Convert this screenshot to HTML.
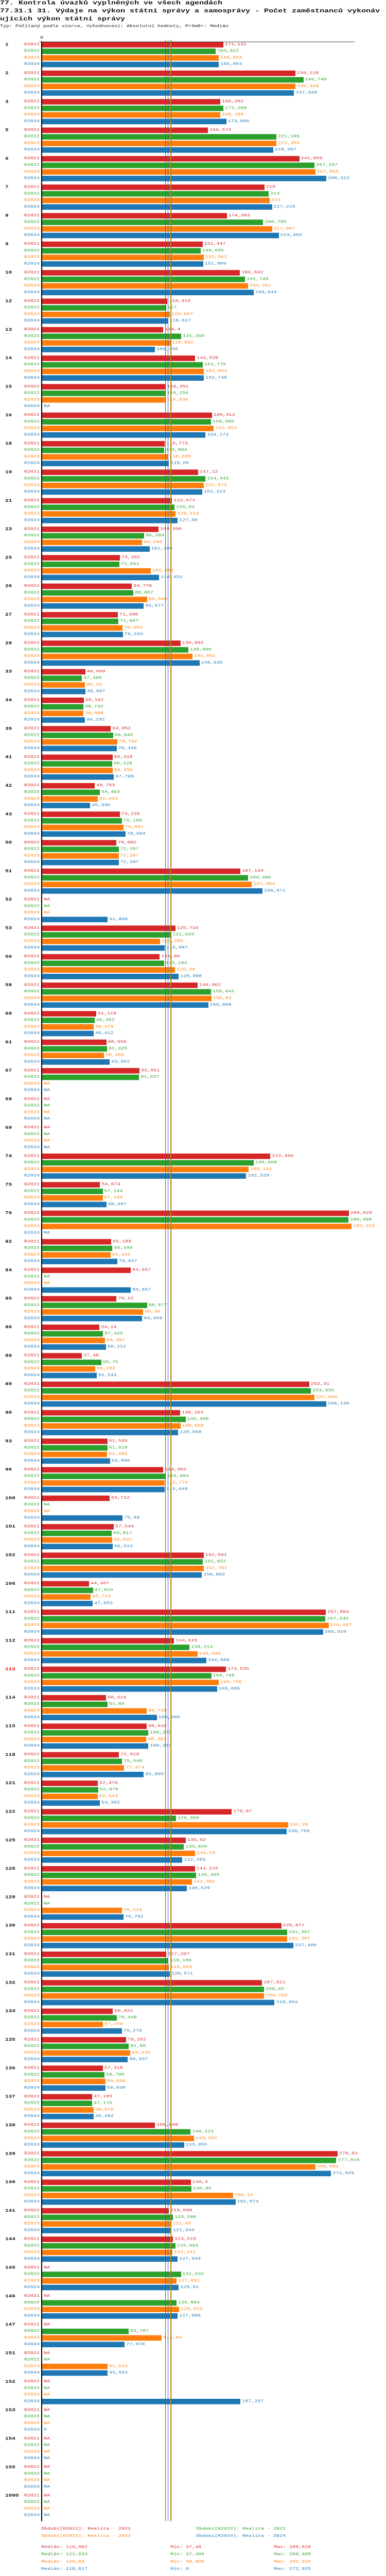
<!DOCTYPE html>
<html><head><meta charset="utf-8">
<style>
html,body{margin:0;padding:0;background:#fff;width:750px;overflow:hidden;}
body{position:relative;font-family:"Liberation Mono","DejaVu Sans Mono",monospace;}
#wrap{position:absolute;left:0;top:0;width:750px;height:7050px;transform-origin:0 0;}
.t{position:absolute;left:0;white-space:nowrap;font-weight:bold;font-size:15px;line-height:18px;color:#111;}
.s{position:absolute;left:0;white-space:nowrap;font-size:10px;line-height:12px;color:#111;}
.a{position:absolute;white-space:nowrap;font-size:10px;line-height:12px;}
.b{position:absolute;height:15px;}
.ln{position:absolute;width:1px;}
#chart{position:absolute;left:0;top:0;width:750px;height:7050px;}
</style></head>
<body>
<div id="wrap">
<div class="t" style="top:0px">77. Kontrola úvazků vyplněných ve všech agendách</div>
<div class="t" style="top:22px">77.31.1 31. Výdaje na výkon státní správy a samosprávy - Počet zaměstnanců vykonáv</div>
<div class="t" style="top:44px">ujících výkon státní správy</div>
<div class="s" style="top:67px">Typ: Počítaný podle vzorce, Vyhodnocení: Absolutní hodnoty, Průměr: Medián</div>
<div id="chart"></div>
</div>
<script>
const groups=["1","2","3","5","6","7","8","9","10","12","13","14","15","16","18","19","21","23","25","26","27","28","33","34","39","41","42","43","50","51","52","53","56","58","60","61","67","68","69","74","75","76","82","84","85","86","88","89","90","93","96","100","101","102","106","111","112","113","114","115","118","121","122","125","126","129","130","131","132","134","135","136","137","138","139","140","141","144","145","146","147","151","152","153","154","155","1000"];
const N=null;
const r2021=[171.132,239.118,168.302,156.573,242.859,210,174.363,151.447,186.842,118.315,114.4,144.528,116.351,160.312,115.773,147.12,122.672,109.996,73.392,84.776,71.498,130.602,40.658,39.162,64.852,66.418,49.753,73.239,70.002,187.134,N,125.716,111.06,146.962,51.119,60.556,92.051,N,N,215.496,54.674,289.629,65.189,83.657,70.22,54.14,37.48,252.31,130.263,61.595,114.302,63.712,67.544,152.561,44.367,267.884,124.615,173.535,60.424,98.632,72.619,52.476,179.07,135.62,144.216,N,225.877,117.207,207.811,66.821,79.201,57.318,47.195,106.609,278.93,140.4,119.698,123.519,N,N,N,N,N,N,N,N,N];
const r2022=[163.922,246.748,171.288,221.106,257.297,214,208.795,149.695,191.749,117,131.355,151.775,116.256,159.305,115.004,154.343,125.03,96.283,72.691,86.057,71.997,138.006,37.406,38.742,66.945,66.128,54.463,75.169,72.207,194.386,N,121.633,115.104,159.642,49.452,61.325,91.627,N,N,199.868,57.144,289.408,66.349,N,98.977,57.425,55.75,253.935,135.408,61.618,116.604,N,65.817,151.852,47.919,267.545,139.214,159.739,61.66,100.279,75.548,52.878,126.309,133.926,145.455,N,231.307,119.186,209.45,70.448,81.85,58.706,47.176,140.221,277.819,140.85,123.598,125.694,131.031,126.883,81.707,N,N,N,N,N,N];
const r2023=[166.853,239.328,168.189,221.354,257.959,215,217.067,152.561,194.261,120.667,120.992,152.654,116.036,162.052,118.695,152.573,126.113,94.294,102.461,99.048,76.062,141.851,40.26,38.908,70.792,66.456,52.333,76.801,72.207,197.964,N,111.285,125.46,159.83,48.379,58.368,N,N,N,195.131,57.144,292.329,64.422,N,95.46,59.287,50.202,257.046,130.568,61.489,115.774,N,66.037,152.787,45.723,270.567,146.699,166.756,98.728,98.391,77.474,52.343,232.28,144.59,141.392,75.213,231.307,119.653,209.755,57.259,83.235,59.856,48.576,143.302,258.081,180.15,121.49,123.112,127.091,129.523,112.84,61.614,N,N,N,N,N];
const r2024=[166.853,237.949,173.886,218.207,268.322,217.215,223.465,151.989,199.643,118.617,106.395,152.746,N,154.172,119.66,151.313,127.96,101.386,110.452,95.877,76.243,148.535,40.607,40.192,70.346,67.709,45.345,78.564,72.207,208.071,61.808,115.687,128.908,156.868,48.412,63.852,N,N,N,192.529,60.697,N,70.837,83.657,94.469,60.212,51.531,268.136,128.558,63.996,115.649,75.99,66.513,150.852,47.653,265.319,154.969,165.085,108.206,100.333,95.805,54.392,230.759,132.283,136.529,76.762,237.406,120.571,219.453,75.276,80.937,59.638,48.482,133.955,272.925,182.573,121.943,127.944,129.01,127.896,77.978,61.922,187.257,0,N,N,N];
const seriesNames=["R2021","R2022","R2023","R2024"];
const medians=[116.062,121.633,120.83,118.617];
const mins=["37,48","37,406","38,908","0"];
const maxs=["289,629","289,408","292,329","272,925"];
const medianLabels=["116,062","121,633","120,83","118,617"];
const highlighted=["113"];

const colors=["#d62728","#2ca02c","#ff7f0e","#1f77b4"];
const series=[r2021,r2022,r2023,r2024];
const X0=82,K=2.057,TOP=115,GP=78,RP=18;
const xs=v=>X0+v*K;
const gy=i=>TOP+i*GP;
const root=document.getElementById('chart');
function el(cls,style,txt){const e=document.createElement('div');e.className=cls;e.style.cssText=style;if(txt!==undefined)e.textContent=txt;root.appendChild(e);return e;}
const fmt=v=>String(+v.toFixed(3)).replace('.',',');
const bottom=gy(groups.length-1)+4*RP+5;

groups.forEach((g,i)=>{
  const y0=gy(i);
  const gl=el('a','left:10px;top:'+(y0+2)+'px;font-size:11px;font-weight:bold;color:'+(highlighted.includes(g)?'#e00':'#111'),g);
  
  
  series.forEach((s,j)=>{
    const y=y0+j*RP;const v=s[i];
    const sl=el('a','right:'+(750-77)+'px;top:'+(y+2)+'px;color:'+colors[j],seriesNames[j]);
    
    
    if(v===null){
      const t=el('a','left:85px;top:'+(y+2)+'px;color:'+colors[j],'NA');
      
      
    }else{
      if(v>0){
        const b=el('b','left:'+X0+'px;top:'+y+'px;width:'+(xs(v)-X0)+'px;background:'+colors[j]);
        
        
      }
      const t=el('a','left:'+(xs(v)+3)+'px;top:'+(y+2)+'px;color:'+colors[j],fmt(v));
      
      
    }
  });
});
medians.forEach((m,j)=>{
  const l=el('ln','left:'+Math.round(xs(m))+'px;top:109px;height:'+(bottom-109)+'px;background:'+colors[j]);
  
  
});
const ax=el('ln','left:80px;width:2px;top:113px;height:'+(bottom-113)+'px;background:#000');


const tx=el('ln','left:76px;width:613px;top:114px;height:1px;background:#000');


const t0=el('a','left:78px;top:99px;color:#111','0');



const legendPos=[[80,6916],[381,6916],[80,6936],[381,6936]];
seriesNames.forEach((s,j)=>{
  const t=el('a','left:'+legendPos[j][0]+'px;top:'+legendPos[j][1]+'px;color:'+colors[j],'Období['+s+']: Realita - '+s.slice(1));
  
  
  const yy=6966+j*20;
  const a=el('a','left:80px;top:'+yy+'px;color:'+colors[j],'Medián: '+medianLabels[j]);
  
  
  const b=el('a','left:331px;top:'+yy+'px;color:'+colors[j],'Min: '+mins[j]);
  
  
  const c=el('a','left:532px;top:'+yy+'px;color:'+colors[j],'Max: '+maxs[j]);
  
  
});
// fit the 7050px layout into the actual viewport height
const vh=window.innerHeight||7050;
const sc=Math.min(1,vh/7050);
document.body.style.height=vh+'px';
document.documentElement.style.height=vh+'px';
if(sc<0.999){document.getElementById('wrap').style.transform='scaleY('+sc+')';}
</script>
</body></html>
